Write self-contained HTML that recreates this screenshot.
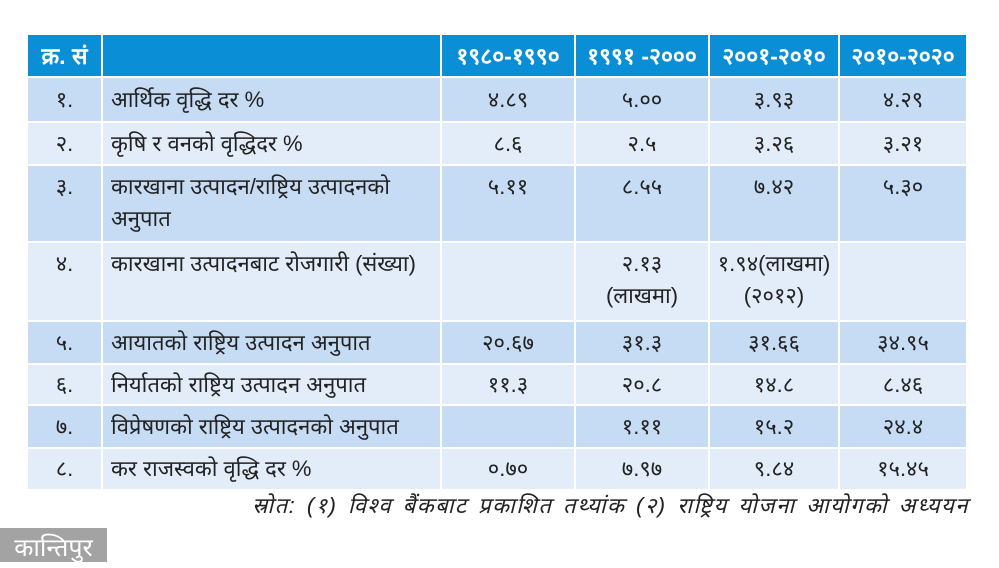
<!DOCTYPE html><html><head><meta charset="utf-8"><style>
body{margin:0;width:999px;height:562px;background:#fff;position:relative;overflow:hidden;font-family:"Liberation Sans","Noto Sans CJK SC",sans-serif}
.c{position:absolute;box-sizing:border-box;display:flex;align-items:center;font-size:22px;color:#222;line-height:32px}
.h{background:#0a8ed6;color:#fff;font-weight:bold;justify-content:center;font-size:23px}
.a{background:#c6dcf4}.b{background:#e2edf9}
.n{justify-content:center;text-align:center}
.t{padding-left:8px}
</style></head><body>
<div id="g"></div>
<div style="position:absolute;right:30px;top:490px;font-size:22px;font-style:italic;color:#222;letter-spacing:1.5px;word-spacing:3px">स्रोत: (१) विश्व बैंकबाट प्रकाशित तथ्यांक (२) राष्ट्रिय योजना आयोगको अध्ययन</div>
<div style="position:absolute;left:0;top:528px;width:107px;height:34px;background:#a3a3a3;color:#fff;font-size:25px;text-align:center;line-height:40px">कान्तिपुर</div>
<script>
var X=[28,103,442,576,710,840,968];
var Y=[[35,76],[78,121],[123,164],[166,241],[243,320],[322,363],[365,404],[406,447],[449,489]];
var D=[["क्र. सं","","१९८०-१९९०","१९९१ -२०००","२००१-२०१०","२०१०-२०२०"],
["१.","आर्थिक वृद्धि दर %","४.८९","५.००","३.९३","४.२९"],
["२.","कृषि र वनको वृद्धिदर %","८.६","२.५","३.२६","३.२१"],
["३.","कारखाना उत्पादन/राष्ट्रिय उत्पादनको<br>अनुपात","५.११","८.५५","७.४२","५.३०"],
["४.","कारखाना उत्पादनबाट रोजगारी (संख्या)","","२.१३<br>(लाखमा)","१.९४(लाखमा)<br>(२०१२)",""],
["५.","आयातको राष्ट्रिय उत्पादन अनुपात","२०.६७","३१.३","३१.६६","३४.९५"],
["६.","निर्यातको राष्ट्रिय उत्पादन अनुपात","११.३","२०.८","१४.८","८.४६"],
["७.","विप्रेषणको राष्ट्रिय उत्पादनको अनुपात","","१.११","१५.२","२४.४"],
["८.","कर राजस्वको वृद्धि दर %","०.७०","७.९७","९.८४","१५.४५"]];
var h="";
for(var r=0;r<9;r++)for(var c=0;c<6;c++){
var cls=r==0?"h":(r%2?"a":"b");
cls+=(c==1&&r>0)?" t":" n";
var al=(r==3||r==4)?"align-items:flex-start;padding-top:5px;":"";
h+='<div class="c '+cls+'" style="'+al+'left:'+X[c]+'px;top:'+Y[r][0]+'px;width:'+(X[c+1]-X[c]-2)+'px;height:'+(Y[r][1]-Y[r][0])+'px">'+D[r][c]+'</div>';}
document.getElementById("g").innerHTML=h;
</script>
</body></html>
